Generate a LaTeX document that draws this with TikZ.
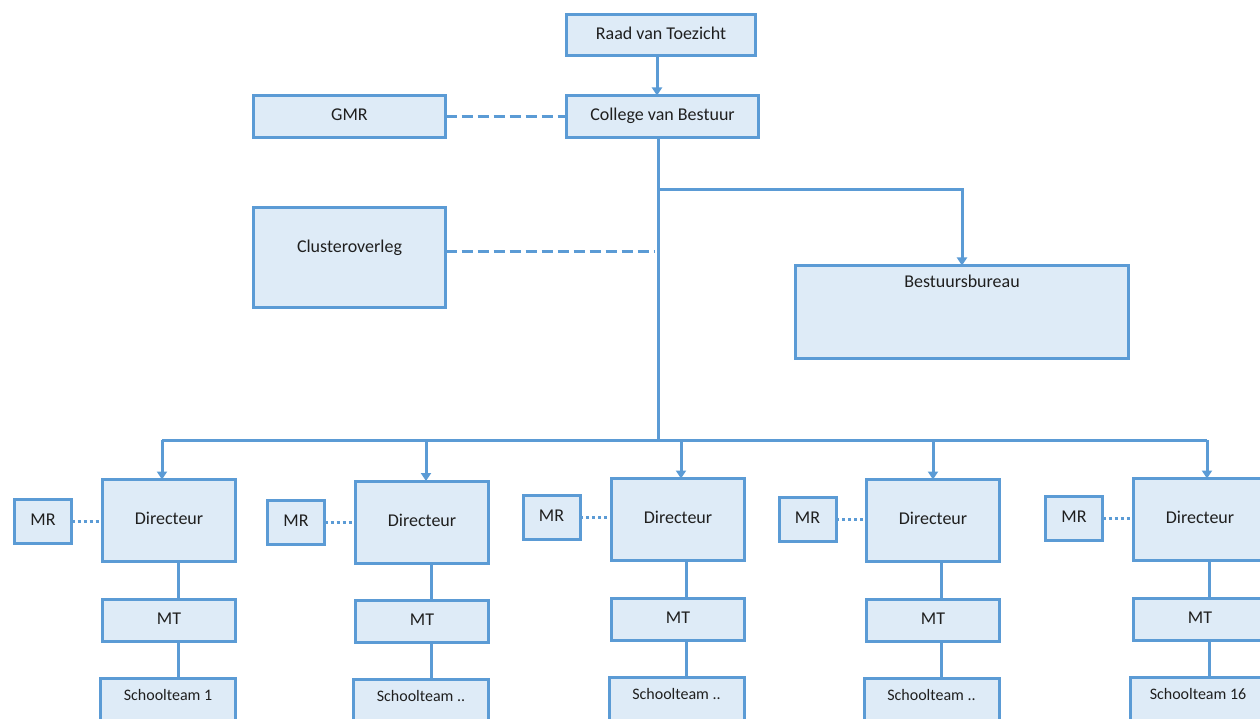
\documentclass[tikz,border=0pt]{standalone}
\usepackage{fontspec}
\setmainfont{Carlito}
\usetikzlibrary{arrows.meta}
\definecolor{bord}{HTML}{5B9BD5}
\definecolor{fillc}{HTML}{DEEBF7}
\definecolor{txtc}{HTML}{1F1F1F}
\begin{document}
\begin{tikzpicture}[x=1pt,y=-1pt,
  box/.style={draw=bord,fill=fillc,line width=3pt,rectangle,inner sep=0pt,outer sep=0pt,
    font=\fontsize{18}{20}\selectfont,text=txtc,text height=0.86em,text depth=0pt},
  txt/.style={inner sep=0pt,font=\fontsize{18}{20}\selectfont,text=txtc,text height=0.86em,text depth=0pt},
  stxt/.style={inner sep=0pt,font=\fontsize{16}{18}\selectfont,text=txtc,text height=0.86em,text depth=0pt},
  conn/.style={draw=bord,line width=3pt},
  arr/.style={conn,-{Triangle[width=10pt,length=8pt]}},
  dashl/.style={conn,dash pattern=on 11pt off 5pt},
  dotl/.style={conn,dash pattern=on 3pt off 3pt}]
\useasboundingbox (0,0) rectangle (1260,719);
\clip (0,0) rectangle (1260,719);

% top
\node[box,minimum width=189pt,minimum height=41pt] (raad) at (661,35) {Raad van Toezicht};
\node[box,minimum width=192pt,minimum height=42pt] (cvb) at (662.5,116.5) {College van Bestuur};
\node[box,minimum width=192pt,minimum height=42pt] (gmr) at (349.5,116.5) {GMR};
\node[box,minimum width=192pt,minimum height=100pt] (clu) at (349.5,257.5) {};
\node[txt] (clut) at ([yshift=-40.5pt]clu.north) {Clusteroverleg};
\node[box,minimum width=333pt,minimum height=93pt] (bb) at (962,312) {};
\node[txt] (bbt) at ([yshift=-17.5pt]bb.north) {Bestuursbureau};

\coordinate (br) at (658,190);
\coordinate (bus) at (658,440);
\coordinate (cluend) at (655,252);

\draw[arr] ([xshift=-4pt]raad.south) -- ([xshift=-4pt]raad.south |- cvb.north);
\draw[dashl] (gmr.east) -- (cvb.west);
\draw[conn] ([xshift=-4.5pt]cvb.south) -- (bus);
\draw[arr] (br) -| (bb.north);
\draw[dashl] ([yshift=5.5pt]clu.east) -- (cluend);

% columns
\foreach \i/\dx/\dy/\mx/\my/\mty/\sx/\sy/\ax/\lx in {
  1/169/520.5/43/521.5/620.5/168/708.5/-7/9,
  2/422/522/296/522.5/621.5/421/709.5/4/9,
  3/678/519.5/551.5/517/619/676.5/707.5/3/8,
  4/933/520.5/807.5/519/620.5/931.5/708.5/0/8,
  5/1200/519.5/1074/518.5/619/1198/707.5/7/9}{
  \node[box,minimum width=133pt,minimum height=82pt] (dir\i) at (\dx,\dy) {Directeur};
  \node[box,minimum width=57pt,minimum height=44pt] (mr\i) at (\mx,\my) {MR};
  \node[box,minimum width=133pt,minimum height=42pt] (mt\i) at (\dx,\mty) {MT};
  \node[box,minimum width=135pt,minimum height=60pt] (st\i) at (\sx,\sy) {};
  \draw[arr] ([xshift=\ax pt]dir\i.north |- bus) -- ([xshift=\ax pt]dir\i.north);
  \draw[dotl] (mr\i.east) -- (mr\i.east -| dir\i.west);
  \draw[conn] ([xshift=\lx pt]dir\i.south) -- ([xshift=\lx pt]dir\i.south |- mt\i.north);
  \draw[conn] ([xshift=\lx pt]dir\i.south |- mt\i.south) -- ([xshift=\lx pt]dir\i.south |- st\i.north);
}
\node[stxt] (st1t) at ([yshift=-17.5pt]st1.north) {Schoolteam 1};
\node[stxt] (st2t) at ([yshift=-17.5pt]st2.north) {Schoolteam ..};
\node[stxt] (st3t) at ([yshift=-17.5pt]st3.north) {Schoolteam ..};
\node[stxt] (st4t) at ([yshift=-17.5pt]st4.north) {Schoolteam ..};
\node[stxt] (st5t) at ([yshift=-17.5pt]st5.north) {Schoolteam 16};

\draw[conn] ([xshift=-7pt]dir1.north |- bus) -- ([xshift=7pt]dir5.north |- bus);
\end{tikzpicture}
\end{document}
